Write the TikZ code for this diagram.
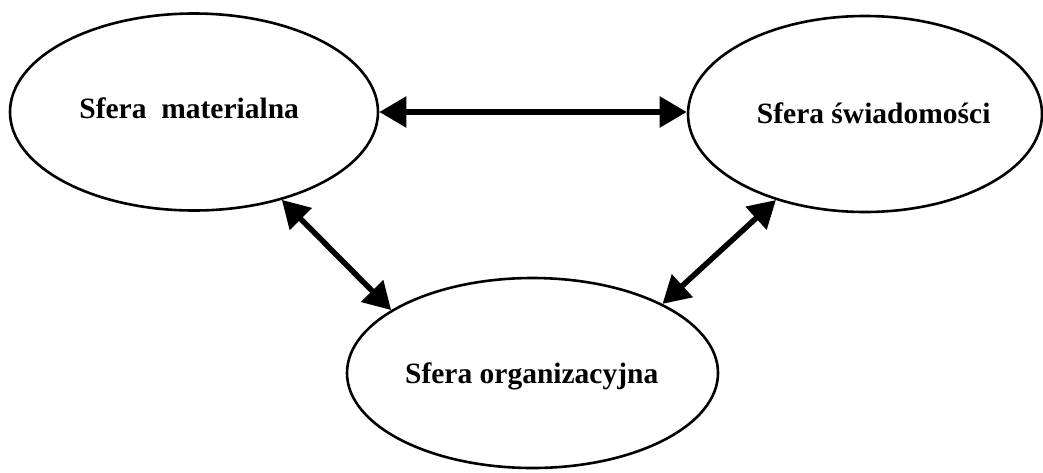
\documentclass[tikz,border=0pt]{standalone}
\usepackage{fontspec}
\setmainfont{Liberation Serif}
\usetikzlibrary{shapes.geometric,arrows.meta}

\tikzset{
  sphere/.style={draw=black, line width=2.6pt, ellipse, inner sep=0pt},
  caption/.style={anchor=base, inner sep=0pt,
    font=\fontsize{29.5}{35}\selectfont\bfseries},
  link/.style={line width=5.5pt, draw=black,
    {Triangle[length=27pt,width=30pt]}-{Triangle[length=27pt,width=30pt]}}
}

\begin{document}
\begin{tikzpicture}[x=1pt,y=-1pt]
  \useasboundingbox (0,0) rectangle (1043,472);

  % the three spheres
  \node[sphere, minimum width=368pt, minimum height=197pt] (mat) at (194,112) {};
  \node[sphere, minimum width=354pt, minimum height=196pt] (swi) at (865,114) {};
  \node[sphere, minimum width=371pt, minimum height=190pt] (org) at (532.5,373) {};

  % their captions
  \node[caption] (tmat) at (189.2,118.3) {Sfera\ \ materialna};
  \node[caption] (tswi) at (873.7,123) {Sfera świadomości};
  \node[caption] (torg) at (531.7,383) {Sfera organizacyjna};

  % two-way links between the spheres
  \draw[link] (mat.east) -- (mat.east -| swi.west);
  \draw[link] (mat.-45) -- (org.156);
  \draw[link] (swi.-136) -- (org.28);
\end{tikzpicture}
\end{document}
